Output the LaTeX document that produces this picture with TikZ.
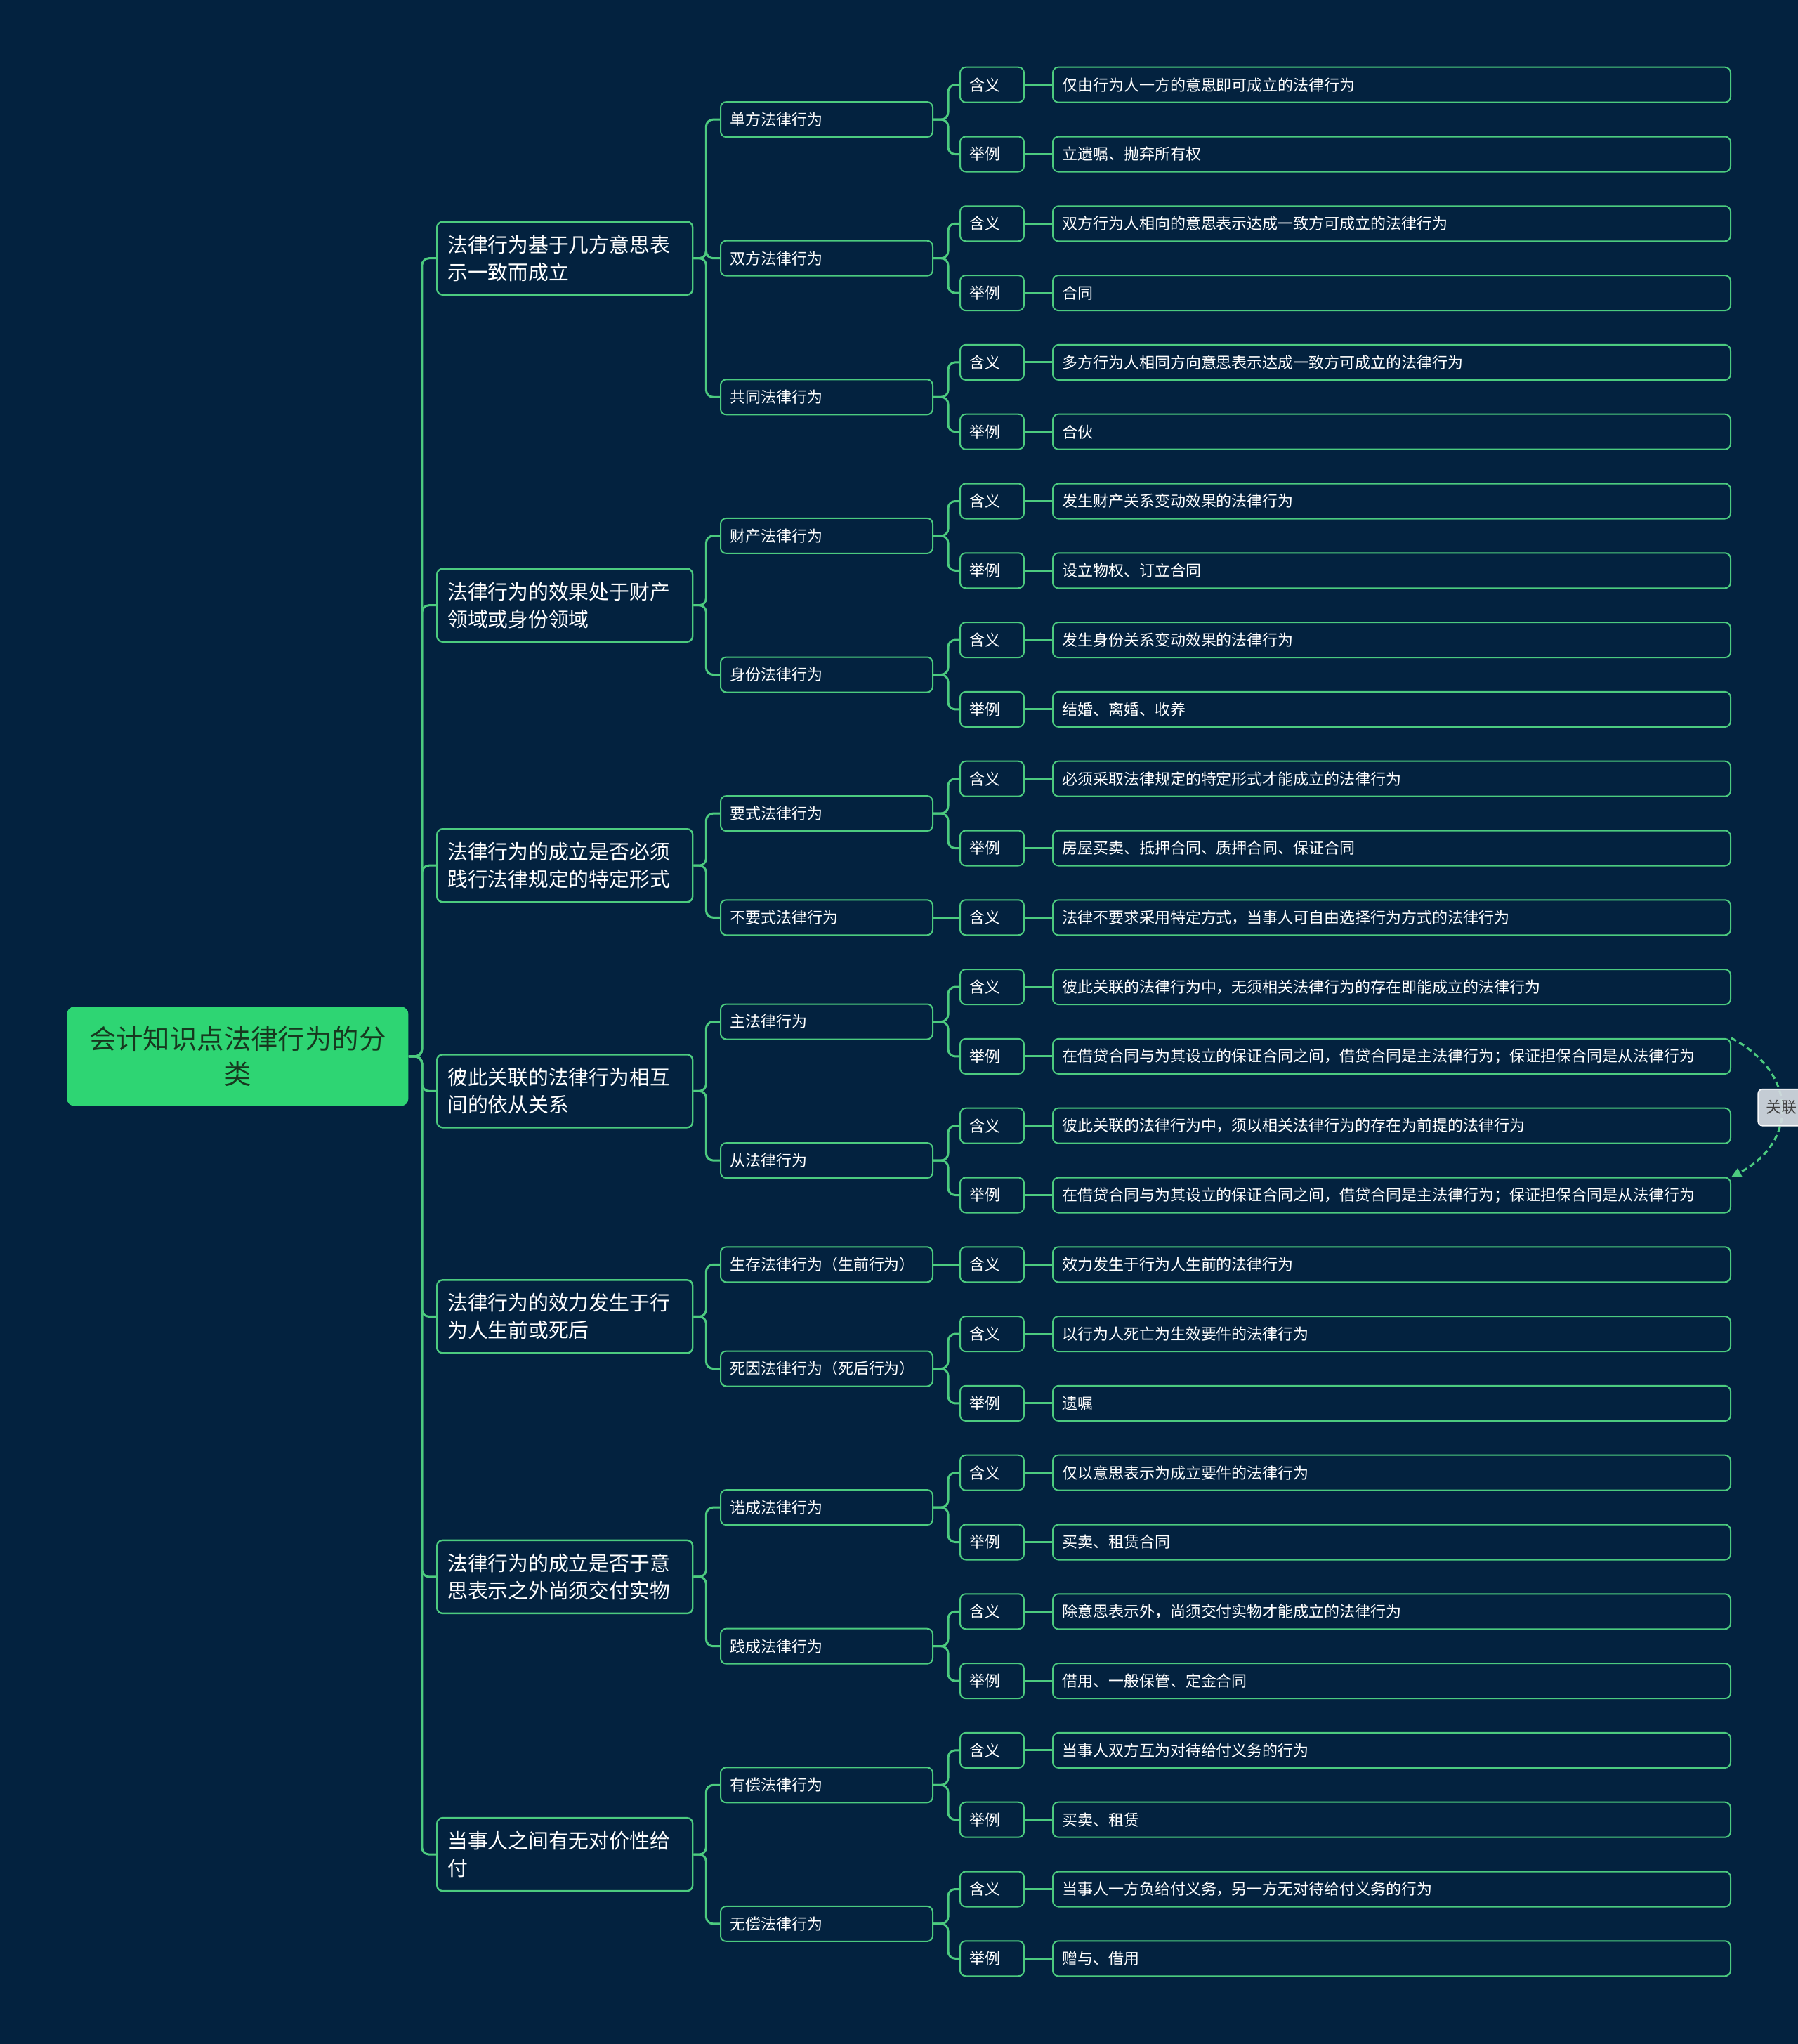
\documentclass[tikz,border=0pt]{standalone}
\usepackage{fontspec}
\setmainfont{Noto Sans CJK SC}
\usetikzlibrary{arrows.meta}
\definecolor{mmnight}{HTML}{03223F}
\definecolor{mmgreen}{HTML}{4CCB7F}
\definecolor{mmroot}{HTML}{2ED573}
\definecolor{mmink}{HTML}{17381F}
\definecolor{mmtag}{HTML}{D5DBE1}

\begin{document}
\begin{tikzpicture}[x=0.5pt, y=49.4pt, line join=round,
    box/.style={draw=mmgreen, line width=1pt, rounded corners=4pt, fill=mmnight,
                text=white, align=left, anchor=west, inner ysep=0pt},
    rootbox/.style={fill=mmroot, rounded corners=5pt, text=mmink, align=center, anchor=west,
                    text width=225pt, inner xsep=9pt, minimum height=70.5pt,
                    font=\fontsize{19.2}{25}\selectfont},
    topicbox/.style={box, line width=1.2pt, text width=167pt, inner xsep=7.5pt,
                     minimum height=52pt, font=\fontsize{14.4}{19.5}\selectfont},
    subbox/.style={box, text width=138pt, inner xsep=6.5pt, minimum height=25pt,
                   font=\fontsize{11}{13}\selectfont},
    tagbox/.style={subbox, text width=32.5pt},
    leafbox/.style={subbox, text width=469.5pt},
    link/.style={draw=mmgreen, line width=1.5pt, rounded corners=5pt},
    relation/.style={draw=mmgreen, line width=1.5pt, dash pattern=on 4pt off 2.5pt,
                     -{Triangle[length=7pt,width=6.5pt]}},
    rellabel/.style={solid, fill=mmtag, draw=white!85!mmtag, line width=.8pt, fill opacity=.92,
                     text opacity=1, text=black!75, rounded corners=3pt, inner xsep=5.5pt,
                     minimum height=26pt, font=\fontsize{11}{13}\selectfont}]
  \fill[mmnight] (0,1.2217) rectangle (2560,-28.232);
  \useasboundingbox (0,1.2217) rectangle (2560,-28.232);
  % (1) root and the seven ways of sorting
  \node[rootbox] (root) at (95,-14) {会计知识点法律行为的分\\类};
  \node[topicbox] (tA) at (621,-2.5) {法律行为基于几方意思表\\示一致而成立};
  \node[topicbox] (tB) at (621,-7.5) {法律行为的效果处于财产\\领域或身份领域};
  \node[topicbox] (tC) at (621,-11.25) {法律行为的成立是否必须\\践行法律规定的特定形式};
  \node[topicbox] (tD) at (621,-14.5) {彼此关联的法律行为相互\\间的依从关系};
  \node[topicbox] (tE) at (621,-17.75) {法律行为的效力发生于行\\为人生前或死后};
  \node[topicbox] (tF) at (621,-21.5) {法律行为的成立是否于意\\思表示之外尚须交付实物};
  \node[topicbox] (tG) at (621,-25.5) {当事人之间有无对价性给\\付};
  \foreach \t in {tA,tB,tC,tD,tE,tF,tG}
    \draw[link] (root.east) -- ++(19,0) |- (\t.west);
  % (2) kinds of legal acts
  \node[subbox] (sA1) at (1025,-0.5) {单方法律行为};
  \node[subbox] (sA2) at (1025,-2.5) {双方法律行为};
  \node[subbox] (sA3) at (1025,-4.5) {共同法律行为};
  \node[subbox] (sB1) at (1025,-6.5) {财产法律行为};
  \node[subbox] (sB2) at (1025,-8.5) {身份法律行为};
  \node[subbox] (sC1) at (1025,-10.5) {要式法律行为};
  \node[subbox] (sC2) at (1025,-12) {不要式法律行为};
  \node[subbox] (sD1) at (1025,-13.5) {主法律行为};
  \node[subbox] (sD2) at (1025,-15.5) {从法律行为};
  \node[subbox] (sE1) at (1025,-17) {生存法律行为（生前行为）};
  \node[subbox] (sE2) at (1025,-18.5) {死因法律行为（死后行为）};
  \node[subbox] (sF1) at (1025,-20.5) {诺成法律行为};
  \node[subbox] (sF2) at (1025,-22.5) {践成法律行为};
  \node[subbox] (sG1) at (1025,-24.5) {有偿法律行为};
  \node[subbox] (sG2) at (1025,-26.5) {无偿法律行为};
  \foreach \t/\s in {tA/sA1,tA/sA2,tA/sA3,tB/sB1,tB/sB2,tC/sC1,tC/sC2,tD/sD1,tD/sD2,
                     tE/sE1,tE/sE2,tF/sF1,tF/sF2,tG/sG1,tG/sG2}
    \draw[link] (\t.east) -- ++(18,0) |- (\s.west);
  % (3) meaning / example rows
  \foreach \k/\kind/\txt in {
      0/含义/仅由行为人一方的意思即可成立的法律行为,
      1/举例/立遗嘱、抛弃所有权,
      2/含义/双方行为人相向的意思表示达成一致方可成立的法律行为,
      3/举例/合同,
      4/含义/多方行为人相同方向意思表示达成一致方可成立的法律行为,
      5/举例/合伙,
      6/含义/发生财产关系变动效果的法律行为,
      7/举例/设立物权、订立合同,
      8/含义/发生身份关系变动效果的法律行为,
      9/举例/结婚、离婚、收养,
      10/含义/必须采取法律规定的特定形式才能成立的法律行为,
      11/举例/房屋买卖、抵押合同、质押合同、保证合同,
      12/含义/法律不要求采用特定方式，当事人可自由选择行为方式的法律行为,
      13/含义/彼此关联的法律行为中，无须相关法律行为的存在即能成立的法律行为,
      14/举例/在借贷合同与为其设立的保证合同之间，借贷合同是主法律行为；保证担保合同是从法律行为,
      15/含义/彼此关联的法律行为中，须以相关法律行为的存在为前提的法律行为,
      16/举例/在借贷合同与为其设立的保证合同之间，借贷合同是主法律行为；保证担保合同是从法律行为,
      17/含义/效力发生于行为人生前的法律行为,
      18/含义/以行为人死亡为生效要件的法律行为,
      19/举例/遗嘱,
      20/含义/仅以意思表示为成立要件的法律行为,
      21/举例/买卖、租赁合同,
      22/含义/除意思表示外，尚须交付实物才能成立的法律行为,
      23/举例/借用、一般保管、定金合同,
      24/含义/当事人双方互为对待给付义务的行为,
      25/举例/买卖、租赁,
      26/含义/当事人一方负给付义务，另一方无对待给付义务的行为,
      27/举例/赠与、借用} {
    \node[tagbox] (g\k) at (1366,-\k) {\kind};
    \node[leafbox] (l\k) at (1498,-\k) {\txt};
    \draw[link] (g\k.east) -- (l\k.west);
  }
  \foreach \s/\k in {sA1/0,sA1/1,sA2/2,sA2/3,sA3/4,sA3/5,sB1/6,sB1/7,sB2/8,sB2/9,
                     sC1/10,sC1/11,sD1/13,sD1/14,sD2/15,sD2/16,sE2/18,sE2/19,
                     sF1/20,sF1/21,sF2/22,sF2/23,sG1/24,sG1/25,sG2/26,sG2/27}
    \draw[link] (\s.east) -- ++(21,0) |- (g\k.west);
  \draw[link] (sC2.east) -- (g12.west);
  \draw[link] (sE1.east) -- (g17.west);
  % (4) the dashed relation between the two examples
  \draw[relation] (l14.north east) .. controls +(95,-0.5) and +(95,0.5) .. (l16.north east)
    node[pos=.5, rellabel] (rel) {关联};
\end{tikzpicture}
\end{document}
